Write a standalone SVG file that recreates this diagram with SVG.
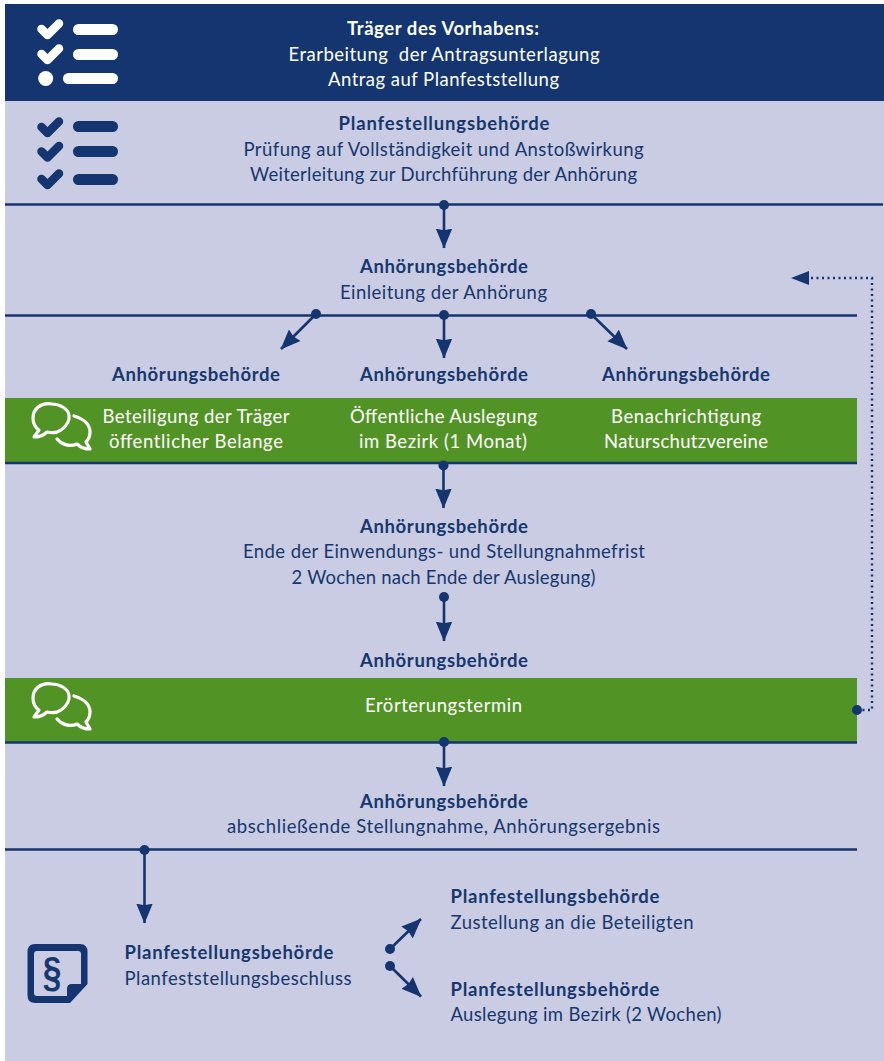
<svg xmlns="http://www.w3.org/2000/svg" width="884" height="1061" viewBox="0 0 884 1061">
<style>
text{font-family:"Lato","Noto Sans","Liberation Sans",sans-serif;font-size:18.5px;fill:#17376f;text-anchor:middle}
.b{font-weight:700}
.l{text-anchor:start}
.w{fill:#fff}
.ln{stroke:#14356f;stroke-width:2.4;fill:none}
.ar{stroke:#14356f;stroke-width:2.6;fill:none;marker-end:url(#a)}
.dot{fill:#14356f}
.ic{fill:none;stroke-linecap:round;stroke-linejoin:round}
</style>
<defs>
<marker id="a" markerUnits="userSpaceOnUse" markerWidth="20" markerHeight="20" refX="16.500" refY="7" orient="auto" viewBox="0 0 17 14"><path d="M0 0L17 7L0 14L1.500 7Z" fill="#14356f"/></marker>
<g id="chk"><path d="M-9.500 0L-3.500 6L8 -5.500" class="ic" stroke-width="8.500"/></g>
<g id="bub"><path d="M52 404C41 402 33 409 33 418C33 424 36 428 39 430L34 437C40 437 44 435 47 432C51 433 57 433 61 430C67 426 70 420 69 415C68 409 60 404 52 404Z" class="ic" stroke="#fff" stroke-width="3.200"/><path d="M74 416C84 419 90 425 90 432C90 436 88 440 86 442L90 449C84 449 80 447 77 444C70 447 62 445 57 439" class="ic" stroke="#fff" stroke-width="3.200"/></g>
</defs>
<rect width="884" height="1061" fill="#fff"/>
<rect x="5" y="101" width="879" height="960" fill="#c9cce2"/>
<g id="n1">
<rect x="5" y="4" width="879" height="97" fill="#14356f"/>
<g stroke="#fff"><use href="#chk" x="51" y="29"/><use href="#chk" x="51" y="54"/></g>
<circle cx="45.700" cy="78.500" r="7.500" fill="#fff"/>
<g fill="#fff"><rect x="73" y="24" width="45" height="11" rx="5.500"/><rect x="73" y="49" width="45" height="11" rx="5.500"/><rect x="63" y="73" width="55" height="11" rx="5.500"/></g>
<text x="443" y="35" class="b w" textLength="192">Träger des Vorhabens:</text>
<text x="444" y="61" class="w" textLength="311" style="white-space:pre">Erarbeitung  der Antragsunterlagung</text>
<text x="443.500" y="85.500" class="w" textLength="231">Antrag auf Planfeststellung</text>
</g>
<g id="n2">
<g stroke="#14356f"><use href="#chk" x="51" y="127"/><use href="#chk" x="51" y="151.500"/><use href="#chk" x="51" y="179"/></g>
<g fill="#14356f"><rect x="73" y="121" width="45" height="11" rx="5.500"/><rect x="73" y="146" width="45" height="11" rx="5.500"/><rect x="73" y="174" width="45" height="11" rx="5.500"/></g>
<text x="444" y="130" class="b" textLength="211">Planfestellungsbehörde</text>
<text x="443.500" y="155.500" textLength="400">Prüfung auf Vollständigkeit und Anstoßwirkung</text>
<text x="443.500" y="181" textLength="387">Weiterleitung zur Durchführung der Anhörung</text>
</g>
<g id="n3">
<text x="444" y="273" class="b" textLength="168">Anhörungsbehörde</text>
<text x="443.500" y="298.500" textLength="207">Einleitung der Anhörung</text>
</g>
<g id="n4">
<rect x="5" y="398" width="852" height="64" fill="#529325"/>
<use href="#bub"/>
<text x="196" y="381" class="b" textLength="168">Anhörungsbehörde</text>
<text x="444" y="381" class="b" textLength="168">Anhörungsbehörde</text>
<text x="686" y="381" class="b" textLength="168">Anhörungsbehörde</text>
<text x="196" y="423" class="w" textLength="187">Beteiligung der Träger</text>
<text x="196" y="448" class="w" textLength="174">öffentlicher Belange</text>
<text x="443.500" y="423" class="w" textLength="187">Öffentliche Auslegung</text>
<text x="443" y="448" class="w" textLength="168">im Bezirk (1 Monat)</text>
<text x="686" y="423" class="w" textLength="150">Benachrichtigung</text>
<text x="686" y="448" class="w" textLength="164">Naturschutzvereine</text>
</g>
<g id="n5">
<text x="444" y="533" class="b" textLength="168">Anhörungsbehörde</text>
<text x="444" y="558" textLength="402">Ende der Einwendungs- und Stellungnahmefrist</text>
<text x="443.500" y="584" textLength="304">2 Wochen nach Ende der Auslegung)</text>
</g>
<g id="n6">
<text x="444" y="667" class="b" textLength="168">Anhörungsbehörde</text>
<rect x="5" y="678" width="852" height="64" fill="#529325"/>
<use href="#bub" y="280"/>
<text x="443.500" y="711.500" class="w" textLength="157">Erörterungstermin</text>
</g>
<g id="n7">
<text x="444" y="808" class="b" textLength="168">Anhörungsbehörde</text>
<text x="443.500" y="833" textLength="433">abschließende Stellungnahme, Anhörungsergebnis</text>
</g>
<g id="n8">
<path d="M35 944H80Q87.500 944 87.500 952V984L70 1003H35Q27.500 1003 27.500 995V952Q27.500 944 35 944Z" fill="#14356f"/>
<path d="M37 951H78Q81 951 81 954V984H72Q67 984 67 989V996H37Q34 996 34 993V954Q34 951 37 951Z" fill="#c9cce2"/>
<text transform="translate(52 985.500) scale(0.8 1)" class="b" style="font-size:42px;font-family:'Liberation Sans',sans-serif">§</text>
<text x="124.500" y="959" class="b l" textLength="209">Planfestellungsbehörde</text>
<text x="124.500" y="985" class="l" textLength="227">Planfeststellungsbeschluss</text>
</g>
<g id="n9">
<text x="450.500" y="903" class="b l" textLength="209">Planfestellungsbehörde</text>
<text x="450.500" y="929" class="l" textLength="243">Zustellung an die Beteiligten</text>
</g>
<g id="n10">
<text x="450.500" y="996" class="b l" textLength="209">Planfestellungsbehörde</text>
<text x="450.500" y="1021" class="l" textLength="271">Auslegung im Bezirk (2 Wochen)</text>
</g>
<g id="connectors">
<path class="ln" d="M5 204.500H883"/>
<path class="ln" d="M5 315.500H857"/>
<path class="ln" d="M5 463H857"/>
<path class="ln" d="M5 742.500H857"/>
<path class="ln" d="M5 849.500H857"/>
<path class="ar" d="M444 205V248"/>
<path class="ar" d="M316 314L281 349"/>
<path class="ar" d="M444 315V358"/>
<path class="ar" d="M591 314L627 349"/>
<path class="ar" d="M443.500 465V508"/>
<path class="ar" d="M444 597V641"/>
<path class="ar" d="M444 742V786"/>
<path class="ar" d="M144.500 850V923"/>
<path class="ar" d="M390 949L421 919"/>
<path class="ar" d="M390 966L421 996.500"/>
<path d="M857 710H872V278H808" stroke="#14356f" stroke-width="2.400" fill="none" stroke-dasharray="2 3.500"/>
<path d="M809 271L791 278L809 285Z" fill="#14356f"/>
<g class="dot"><circle cx="444" cy="205" r="5"/><circle cx="316" cy="314" r="5"/><circle cx="444" cy="315" r="5"/><circle cx="591" cy="314" r="5"/><circle cx="443.500" cy="465.500" r="5"/><circle cx="444" cy="597" r="5"/><circle cx="857" cy="710" r="5"/><circle cx="444" cy="742" r="5"/><circle cx="144.500" cy="850" r="5"/><circle cx="390" cy="949" r="5"/><circle cx="390" cy="966" r="5"/></g>
</g>
</svg>
